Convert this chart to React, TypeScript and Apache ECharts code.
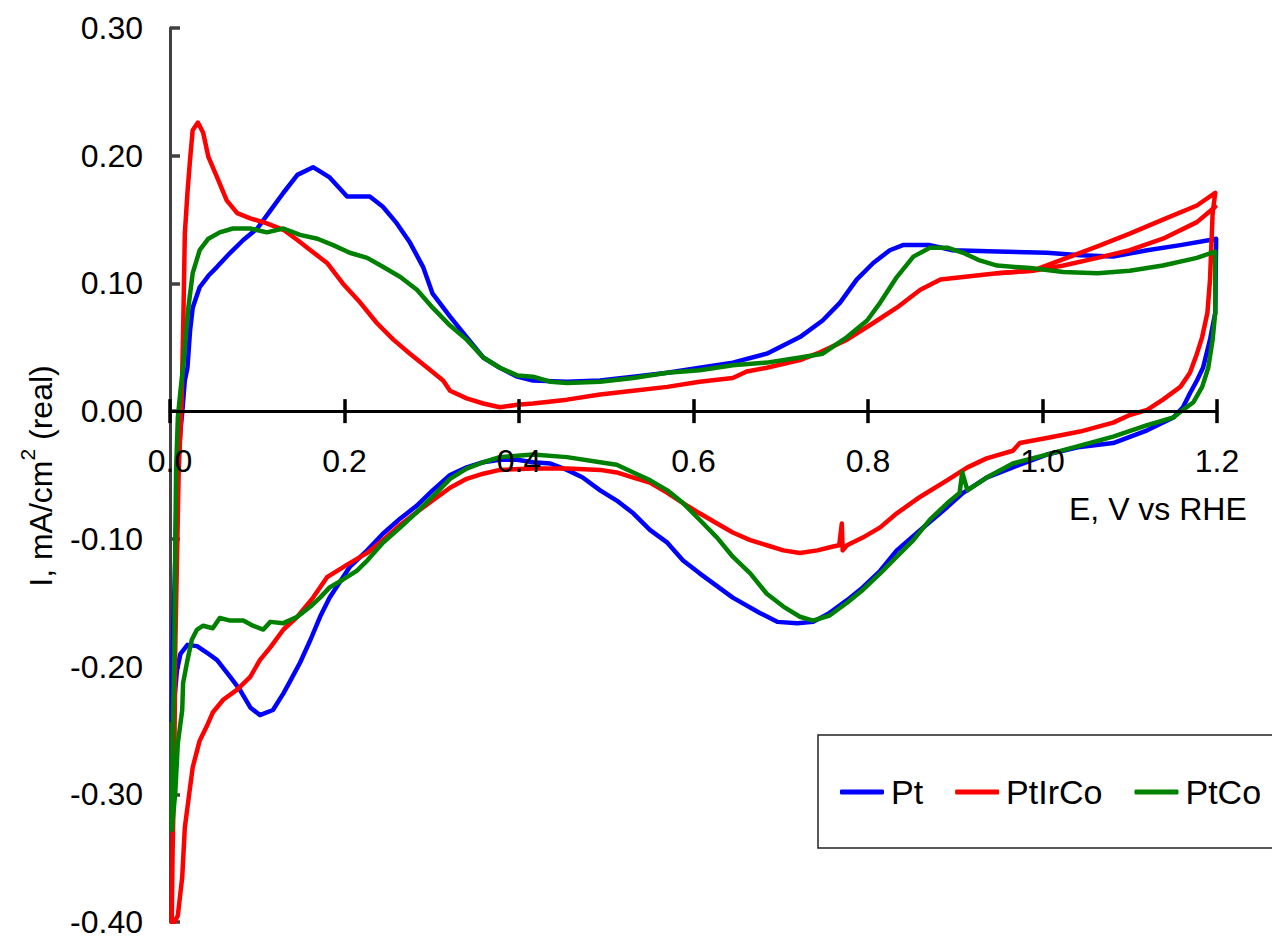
import React, { useEffect, useRef } from 'react';
import * as echarts from 'echarts';

// Axis ticks
const xTicks = { min: 0, max: 1.2, interval: 0.2 };
const yTicks = { min: -0.4, max: 0.3, interval: 0.1 };
const seriesNames = ['Pt', 'PtIrCo', 'PtCo'];

// ---- Pt (blue) ----
const ptAnodicE = [0.002, 0.003, 0.006, 0.008, 0.012, 0.014, 0.017, 0.020, 0.023, 0.026, 0.034, 0.044, 0.054, 0.069, 0.084, 0.100, 0.115, 0.130, 0.146, 0.164, 0.183, 0.203, 0.214, 0.229, 0.244, 0.260, 0.275, 0.290, 0.301, 0.321, 0.340, 0.359, 0.378, 0.398, 0.416, 0.455, 0.493, 0.531, 0.570, 0.607, 0.645, 0.684, 0.722, 0.748, 0.768, 0.787, 0.806, 0.825, 0.840, 0.871, 0.897, 0.948, 1.005, 1.043, 1.081, 1.120, 1.158, 1.192, 1.199];
const ptAnodicI = [-0.242, -0.187, -0.117, -0.054, -0.015, -0.001, 0.024, 0.034, 0.063, 0.081, 0.097, 0.106, 0.113, 0.124, 0.134, 0.143, 0.157, 0.171, 0.185, 0.191, 0.183, 0.168, 0.168, 0.168, 0.160, 0.147, 0.132, 0.113, 0.092, 0.074, 0.058, 0.042, 0.034, 0.027, 0.024, 0.023, 0.024, 0.027, 0.030, 0.034, 0.038, 0.045, 0.058, 0.071, 0.085, 0.103, 0.116, 0.126, 0.130, 0.130, 0.126, 0.125, 0.124, 0.122, 0.121, 0.126, 0.130, 0.134, 0.135];
const ptCathodicE = [1.199, 1.198, 1.192, 1.184, 1.177, 1.169, 1.161, 1.150, 1.120, 1.081, 1.043, 1.005, 0.966, 0.936, 0.909, 0.891, 0.860, 0.833, 0.814, 0.794, 0.776, 0.756, 0.737, 0.719, 0.696, 0.676, 0.645, 0.607, 0.588, 0.570, 0.550, 0.531, 0.512, 0.493, 0.473, 0.455, 0.436, 0.416, 0.398, 0.378, 0.359, 0.340, 0.321, 0.301, 0.283, 0.264, 0.244, 0.226, 0.206, 0.183, 0.172, 0.161, 0.149, 0.138, 0.130, 0.118, 0.103, 0.092, 0.080, 0.069, 0.054, 0.042, 0.031, 0.020, 0.012, 0.008, 0.005, 0.002];
const ptCathodicI = [0.135, 0.077, 0.056, 0.034, 0.024, 0.014, 0.003, -0.005, -0.015, -0.025, -0.028, -0.034, -0.044, -0.052, -0.064, -0.075, -0.093, -0.109, -0.125, -0.138, -0.148, -0.158, -0.165, -0.166, -0.165, -0.158, -0.146, -0.127, -0.117, -0.103, -0.093, -0.080, -0.070, -0.062, -0.052, -0.046, -0.041, -0.040, -0.038, -0.038, -0.040, -0.044, -0.050, -0.062, -0.074, -0.084, -0.096, -0.109, -0.122, -0.146, -0.161, -0.179, -0.197, -0.211, -0.221, -0.234, -0.238, -0.232, -0.218, -0.208, -0.195, -0.189, -0.184, -0.183, -0.190, -0.203, -0.226, -0.242];

// ---- PtIrCo (red) ----
const irAnodicE = [0.002, 0.003, 0.005, 0.006, 0.008, 0.010, 0.013, 0.015, 0.017, 0.020, 0.023, 0.026, 0.032, 0.038, 0.044, 0.054, 0.065, 0.077, 0.092, 0.111, 0.130, 0.146, 0.161, 0.180, 0.198, 0.218, 0.237, 0.256, 0.275, 0.295, 0.313, 0.321, 0.340, 0.359, 0.378, 0.398, 0.416, 0.455, 0.493, 0.531, 0.570, 0.607, 0.645, 0.661, 0.684, 0.722, 0.745, 0.776, 0.806, 0.833, 0.860, 0.883, 0.909, 0.948, 0.989, 1.024, 1.063, 1.100, 1.138, 1.177, 1.198];
const irAnodicI = [-0.400, -0.344, -0.273, -0.187, -0.117, -0.046, 0.000, 0.061, 0.139, 0.171, 0.197, 0.220, 0.226, 0.218, 0.199, 0.183, 0.165, 0.155, 0.151, 0.147, 0.142, 0.134, 0.126, 0.116, 0.100, 0.085, 0.069, 0.056, 0.045, 0.034, 0.024, 0.016, 0.010, 0.006, 0.003, 0.005, 0.006, 0.009, 0.013, 0.016, 0.019, 0.023, 0.026, 0.031, 0.034, 0.040, 0.046, 0.056, 0.069, 0.081, 0.095, 0.103, 0.105, 0.108, 0.110, 0.119, 0.129, 0.139, 0.150, 0.161, 0.171];
const irSecondE = [0.948, 0.989, 1.024, 1.063, 1.100, 1.138, 1.177, 1.198];
const irSecondI = [0.108, 0.110, 0.114, 0.120, 0.126, 0.135, 0.148, 0.160];
const irCathodicE = [1.198, 1.195, 1.192, 1.189, 1.183, 1.177, 1.169, 1.158, 1.138, 1.120, 1.100, 1.081, 1.043, 1.005, 0.974, 0.966, 0.936, 0.914, 0.891, 0.860, 0.833, 0.814, 0.794, 0.776, 0.771, 0.770, 0.767, 0.760, 0.742, 0.722, 0.703, 0.684, 0.665, 0.645, 0.627, 0.607, 0.588, 0.570, 0.550, 0.531, 0.512, 0.493, 0.455, 0.416, 0.378, 0.359, 0.340, 0.321, 0.301, 0.283, 0.264, 0.244, 0.226, 0.206, 0.180, 0.164, 0.146, 0.130, 0.115, 0.103, 0.092, 0.077, 0.061, 0.049, 0.042, 0.034, 0.026, 0.021, 0.017, 0.014, 0.009, 0.005, 0.002];
const irCathodicI = [0.171, 0.155, 0.103, 0.077, 0.058, 0.045, 0.030, 0.019, 0.009, 0.001, -0.003, -0.009, -0.016, -0.021, -0.025, -0.031, -0.037, -0.044, -0.054, -0.067, -0.080, -0.091, -0.099, -0.105, -0.109, -0.088, -0.105, -0.106, -0.109, -0.111, -0.109, -0.105, -0.101, -0.095, -0.088, -0.080, -0.072, -0.064, -0.056, -0.052, -0.048, -0.046, -0.045, -0.045, -0.046, -0.049, -0.053, -0.060, -0.070, -0.079, -0.089, -0.101, -0.111, -0.119, -0.130, -0.146, -0.161, -0.171, -0.185, -0.195, -0.208, -0.218, -0.226, -0.236, -0.247, -0.258, -0.279, -0.305, -0.326, -0.365, -0.395, -0.400, -0.400];

// ---- PtCo (green) ----
const coAnodicE = [0.002, 0.003, 0.005, 0.006, 0.007, 0.009, 0.012, 0.015, 0.021, 0.026, 0.034, 0.044, 0.057, 0.072, 0.092, 0.111, 0.130, 0.149, 0.169, 0.187, 0.206, 0.226, 0.244, 0.264, 0.283, 0.301, 0.321, 0.340, 0.359, 0.378, 0.398, 0.416, 0.436, 0.455, 0.493, 0.531, 0.570, 0.607, 0.645, 0.684, 0.722, 0.748, 0.776, 0.799, 0.814, 0.833, 0.852, 0.871, 0.891, 0.909, 0.928, 0.948, 0.986, 1.024, 1.063, 1.100, 1.138, 1.177, 1.198];
const coAnodicI = [-0.328, -0.265, -0.187, -0.109, -0.046, -0.005, 0.016, 0.034, 0.081, 0.108, 0.126, 0.135, 0.140, 0.143, 0.143, 0.140, 0.143, 0.138, 0.135, 0.130, 0.124, 0.120, 0.113, 0.105, 0.095, 0.081, 0.067, 0.056, 0.042, 0.034, 0.028, 0.027, 0.023, 0.022, 0.023, 0.026, 0.030, 0.032, 0.036, 0.038, 0.042, 0.045, 0.058, 0.071, 0.085, 0.105, 0.121, 0.128, 0.128, 0.124, 0.118, 0.114, 0.112, 0.109, 0.108, 0.110, 0.114, 0.120, 0.125];
const coCathodicE = [1.198, 1.198, 1.195, 1.190, 1.183, 1.173, 1.161, 1.150, 1.120, 1.081, 1.043, 1.005, 0.966, 0.936, 0.914, 0.908, 0.905, 0.891, 0.871, 0.852, 0.833, 0.814, 0.794, 0.776, 0.756, 0.737, 0.722, 0.703, 0.684, 0.665, 0.645, 0.627, 0.607, 0.588, 0.570, 0.550, 0.531, 0.512, 0.493, 0.455, 0.416, 0.378, 0.359, 0.340, 0.321, 0.301, 0.283, 0.264, 0.244, 0.226, 0.214, 0.198, 0.183, 0.172, 0.161, 0.146, 0.130, 0.115, 0.107, 0.095, 0.084, 0.069, 0.057, 0.049, 0.038, 0.031, 0.025, 0.020, 0.015, 0.014, 0.009, 0.006, 0.002];
const coCathodicI = [0.125, 0.077, 0.056, 0.034, 0.019, 0.007, 0.001, -0.005, -0.011, -0.020, -0.027, -0.034, -0.041, -0.052, -0.062, -0.048, -0.064, -0.072, -0.085, -0.101, -0.114, -0.127, -0.140, -0.150, -0.160, -0.164, -0.161, -0.153, -0.143, -0.127, -0.114, -0.099, -0.085, -0.072, -0.062, -0.054, -0.048, -0.042, -0.040, -0.036, -0.034, -0.036, -0.040, -0.045, -0.053, -0.067, -0.079, -0.091, -0.103, -0.117, -0.125, -0.132, -0.138, -0.146, -0.153, -0.161, -0.166, -0.165, -0.171, -0.168, -0.164, -0.164, -0.162, -0.170, -0.168, -0.171, -0.179, -0.195, -0.213, -0.234, -0.260, -0.299, -0.328];

const colors = ['#0000FF', '#FF0000', '#008000'];

function zip(e: number[], i: number[]): number[][] {
  return e.map((x, k) => [x, i[k]]);
}

export default function App() {
  const ref = useRef<HTMLDivElement>(null);
  useEffect(() => {
    if (!ref.current) return;
    const chart = echarts.init(ref.current, null, { renderer: 'svg' });
    const font = '"Liberation Sans", Arial, sans-serif';
    const lineW = 4.5;
    const L = 170;
    const R = 55;
    const T = 28;
    const B = 18;
    const plotH = 940 - T - B;
    // height of the upper part (from 0.30 down to 0.00)
    const upperH = (plotH * (yTicks.max - 0)) / (yTicks.max - yTicks.min);
    const mkSeries = (name: string, color: string, data: number[][]) => ({
      type: 'line',
      name,
      data,
      showSymbol: false,
      symbol: 'none',
      smooth: false,
      color,
      lineStyle: { color, width: lineW, join: 'round', cap: 'round' },
      emphasis: { disabled: true },
      xAxisIndex: 0,
      yAxisIndex: 0,
      z: 3,
    });
    const hiddenY = (gridIndex: number) => ({
      type: 'value',
      gridIndex,
      min: 0,
      max: 1,
      show: false,
    });
    chart.setOption({
      animation: false,
      backgroundColor: '#ffffff',
      textStyle: { fontFamily: font },
      grid: [
        { left: L, top: T, right: R, bottom: B, containLabel: false, outerBoundsMode: 'none' },
        { left: L, top: T, right: R, height: upperH, containLabel: false, outerBoundsMode: 'none' },
        { left: L, top: T, right: R, height: upperH, containLabel: false, outerBoundsMode: 'none' },
      ],
      xAxis: [
        {
          type: 'value',
          gridIndex: 0,
          min: xTicks.min,
          max: xTicks.max,
          interval: xTicks.interval,
          show: false,
        },
        {
          type: 'value',
          gridIndex: 1,
          min: xTicks.min,
          max: xTicks.max,
          interval: xTicks.interval,
          position: 'bottom',
          axisLine: { show: true, onZero: false, lineStyle: { color: '#000', width: 3 } },
          axisTick: { show: true, inside: false, length: 12, lineStyle: { color: '#000', width: 3.5 } },
          axisLabel: {
            show: true,
            margin: 34,
            fontSize: 32,
            color: '#000',
            fontFamily: font,
            showMinLabel: true,
            showMaxLabel: true,
            formatter: (v: number) => v.toFixed(1),
          },
          splitLine: { show: false },
          z: 5,
        },
        {
          type: 'value',
          gridIndex: 2,
          min: xTicks.min,
          max: xTicks.max,
          interval: xTicks.interval,
          position: 'bottom',
          axisLine: { show: false, onZero: false },
          axisTick: { show: true, inside: true, length: 12, lineStyle: { color: '#000', width: 3.5 } },
          axisLabel: { show: false },
          splitLine: { show: false },
          z: 5,
        },
      ],
      yAxis: [
        {
          type: 'value',
          gridIndex: 0,
          min: yTicks.min,
          max: yTicks.max,
          interval: yTicks.interval,
          axisLine: { show: true, onZero: false, lineStyle: { color: '#404040', width: 3 } },
          axisTick: { show: true, inside: true, length: 10, lineStyle: { color: '#404040', width: 3.5 } },
          axisLabel: {
            show: true,
            margin: 27,
            fontSize: 32,
            color: '#000',
            fontFamily: font,
            showMinLabel: true,
            showMaxLabel: true,
            formatter: (v: number) => v.toFixed(2),
          },
          splitLine: { show: false },
        },
        hiddenY(1),
        hiddenY(2),
      ],
      legend: {
        show: true,
        data: seriesNames,
        left: 835,
        top: 770,
        orient: 'horizontal',
        itemWidth: 44,
        itemHeight: 5,
        itemGap: 32,
        icon: 'roundRect',
        selectedMode: false,
        textStyle: { fontSize: 34, color: '#000', fontFamily: font, padding: [0, 0, 0, 2] },
      },
      graphic: [
        {
          type: 'rect',
          z: 0,
          shape: { x: 818, y: 735, width: 470, height: 113 },
          style: { fill: '#fff', stroke: '#222', lineWidth: 1.5 },
          silent: true,
        },
        {
          type: 'text',
          x: 1069,
          y: 509,
          silent: true,
          style: {
            text: 'E, V vs RHE',
            font: '32px "Liberation Sans", Arial, sans-serif',
            fill: '#000',
            align: 'left',
            verticalAlign: 'middle',
          },
        },
        {
          type: 'text',
          x: 37,
          y: 476,
          rotation: Math.PI / 2,
          silent: true,
          style: {
            text: '{a|I, mA/cm}{s|2}{a| (real)}',
            fill: '#000',
            align: 'center',
            verticalAlign: 'middle',
            rich: {
              a: { fontSize: 32, fontFamily: font, fill: '#000', lineHeight: 40, verticalAlign: 'bottom' },
              s: { fontSize: 21, fontFamily: font, fill: '#000', lineHeight: 40, verticalAlign: 'top' },
            },
          },
        },
      ],
      series: [
        mkSeries('Pt', colors[0], [...zip(ptAnodicE, ptAnodicI), ...zip(ptCathodicE, ptCathodicI)]),
        mkSeries('PtIrCo', colors[1], [...zip(irAnodicE, irAnodicI), ...zip(irCathodicE, irCathodicI)]),
        mkSeries('PtIrCo', colors[1], zip(irSecondE, irSecondI)),
        mkSeries('PtCo', colors[2], [...zip(coAnodicE, coAnodicI), ...zip(coCathodicE, coCathodicI)]),
      ],
    });
    return () => chart.dispose();
  }, []);
  return (
    <div
      ref={ref}
      style={{ position: 'fixed', left: 0, top: 0, width: 1272, height: 940, background: '#fff' }}
    />
  );
}
